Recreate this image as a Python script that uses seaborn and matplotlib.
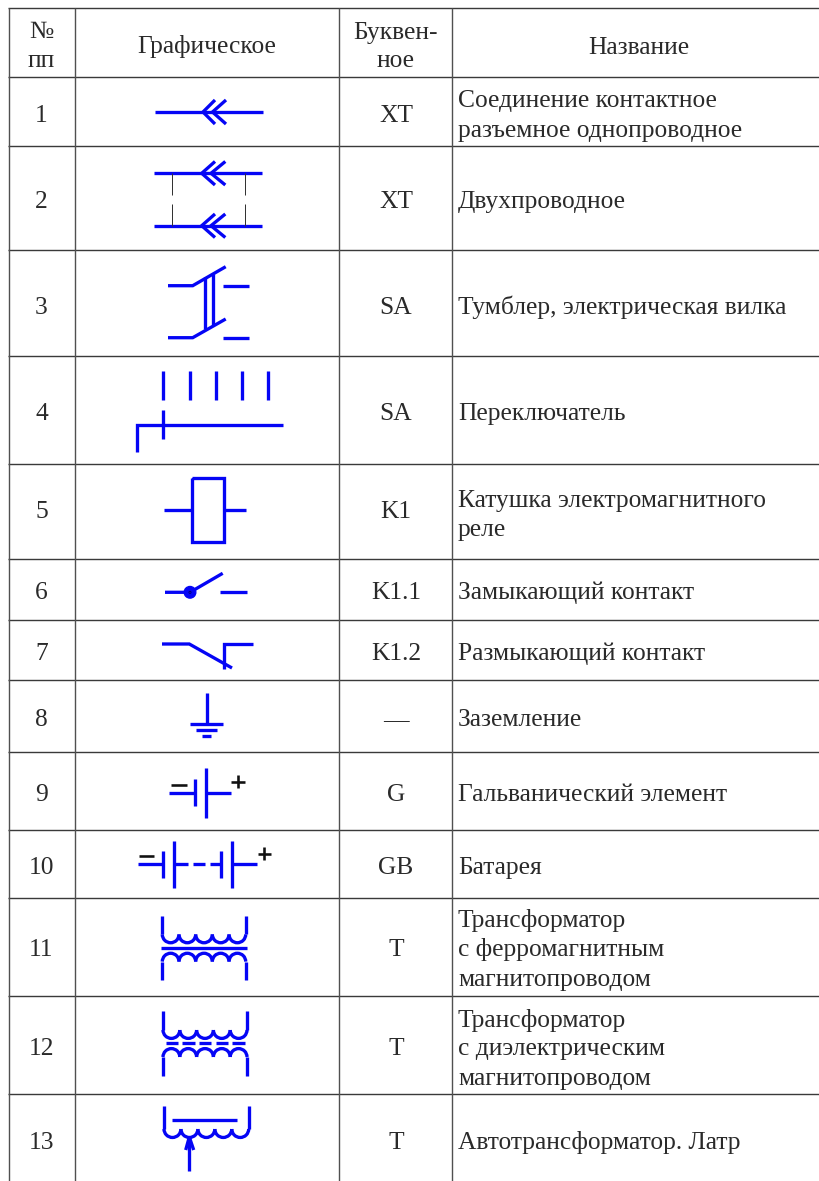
import matplotlib
matplotlib.use("Agg")
import matplotlib.pyplot as plt
from matplotlib.patches import Arc, Circle
import seaborn as sns

sns.set_style("white")
plt.rcParams['font.family'] = ['Liberation Serif', 'DejaVu Serif']

W, H = 819, 1181
BLUE = "#0505F5"
INK = "#2a2a2a"
FS = 18.35

# table grid
ROW_Y = [8, 77, 146, 250, 355.5, 463.7, 559, 620, 680, 752, 830, 898, 996, 1094]
COL_X = [8.5, 74.5, 339, 452]
LEFT_END, RIGHT_END = 8, 819

# text: (x, baseline y, string)
HEADER = [(41.5, 38, "№"), (41.5, 67, "пп"), (207, 53.5, "Графическое"),
          (396, 39, "Буквен-"), (396, 67, "ное"), (639, 53.5, "Название")]
NUMBERS = ["1", "2", "3", "4", "5", "6", "7", "8", "9", "10", "11", "12", "13"]
NUMBER_Y = [122, 208, 314, 420, 518, 599, 660, 726, 801, 874, 956, 1055, 1149]
LETTERS = ["XT", "XT", "SA", "SA", "K1", "K1.1", "K1.2", "—", "G", "GB", "T", "T", "T"]
NAMES = [("Соединение контактное", 107.5), ("разъемное однопроводное", 136.5),
         ("Двухпроводное", 208), ("Тумблер, электрическая вилка", 314),
         ("Переключатель", 420), ("Катушка электромагнитного", 507),
         ("реле", 536), ("Замыкающий контакт", 599), ("Размыкающий контакт", 660),
         ("Заземление", 726), ("Гальванический элемент", 801), ("Батарея", 874),
         ("Трансформатор", 927.5), ("с ферромагнитным", 956), ("магнитопроводом", 986),
         ("Трансформатор", 1026.5), ("с диэлектрическим", 1055), ("магнитопроводом", 1085),
         ("Автотрансформатор. Латр", 1149)]
NAME_X = 458

# symbols: polylines of (x, y) pixel pairs, thick blue
SYM_THICK = [
    # 1
    [(155, 112), (263, 112)], [(215, 100), (203, 112), (215, 124)], [(226, 100), (212.5, 112), (226, 124)],
    # 2
    [(154, 173.3), (262, 173.3)], [(215, 161.5), (201.7, 173.3), (215, 185)], [(225.3, 161.5), (211, 173.3), (225.3, 185)],
    [(154, 225.7), (262, 225.7)], [(215, 214), (201.7, 225.7), (215, 237.5)], [(225.3, 214), (211, 225.7), (225.3, 237.5)],
    # 3
    [(168, 285.7), (192.7, 285.7), (225.7, 266.7)], [(223, 285.7), (249.3, 285.7)],
    [(168, 337.7), (192.7, 337.7), (225.7, 319)], [(223, 337.7), (249.3, 337.7)],
    [(205, 276.5), (205, 329)], [(212.7, 274), (212.7, 325)],
    # 4
    [(163.3, 371), (163.3, 400)], [(189.7, 371), (189.7, 400)], [(215.7, 371), (215.7, 400)],
    [(242, 371), (242, 400)], [(268, 371), (268, 400)], [(163.3, 410), (163.3, 439.3)],
    [(137.3, 452.3), (137.3, 424.7), (282.7, 424.7)],
    # 5
    [(191.7, 477.7), (224, 477.7), (224, 541.7), (191.7, 541.7), (191.7, 477.7)],
    [(164.3, 509.7), (191.7, 509.7)], [(224, 509.7), (246, 509.7)],
    # 6
    [(165, 592.3), (190, 592.3), (222.7, 573.3)], [(220, 592.3), (246.7, 592.3)],
    # 7
    [(162, 644), (189.3, 644), (232, 668)], [(224.3, 668.7), (224.3, 644), (252.7, 644)],
    # 8
    [(206.7, 693.3), (206.7, 724)], [(190, 724), (222.7, 724)], [(196, 730), (217, 730)], [(201.7, 735.7), (211, 735.7)],
    # 9
    [(169.3, 793), (194.7, 793)], [(194.7, 779.3), (194.7, 806)], [(206, 768), (206, 817.7)], [(206, 793), (231.3, 793)],
    # 10
    [(138, 864.3), (163, 864.3)], [(163, 851.3), (163, 877.7)], [(174, 841), (174, 888)], [(174, 864.3), (187.7, 864.3)],
    [(192.7, 864.3), (205.3, 864.3)], [(210.3, 864.3), (221, 864.3)], [(221, 851.3), (221, 877.7)],
    [(232.3, 841), (232.3, 888)], [(232.3, 864.3), (257.3, 864.3)],
    # 11
    [(161.3, 948.3), (247, 948.3)], [(162.3, 916), (162.3, 934.4)], [(245.7, 916), (245.7, 934.4)],
    [(162.3, 961.6), (162.3, 980)], [(245.7, 961.6), (245.7, 980)],
    # 12
    [(166, 1043.3), (178.3, 1043.3)], [(182.3, 1043.3), (194.7, 1043.3)], [(199, 1043.3), (211.3, 1043.3)],
    [(215.7, 1043.3), (228, 1043.3)], [(232, 1043.3), (245, 1043.3)],
    [(163, 1011), (163, 1030)], [(247, 1011), (247, 1030)], [(163, 1057), (163, 1076)], [(247, 1057), (247, 1076)],
    # 13
    [(164, 1106), (164, 1129)], [(248.7, 1106), (248.7, 1129)], [(172.3, 1120.3), (236.7, 1120.3)],
    [(189.3, 1171), (189.3, 1137)], [(185.7, 1150), (189.3, 1137), (193.7, 1150)],
]
# thin black ties of symbol 2
SYM_THIN = [[(171.5, 173.3), (171.5, 194.5)], [(171.5, 204.3), (171.5, 225.7)],
            [(244.7, 173.3), (244.7, 194.5)], [(244.7, 204.3), (244.7, 225.7)]]
# black polarity signs of symbols 9 and 10
SYM_SIGNS = [[(171.3, 784.7), (186.7, 784.7)], [(231.3, 781.7), (244.7, 781.7)], [(238, 775), (238, 788.4)],
             [(139, 856.3), (154.3, 856.3)], [(257.6, 853.7), (271, 853.7)], [(264.3, 847), (264.3, 860.4)]]
# winding rows: (first hump left x, hump width, hump count, centre y, bulge direction)
WINDINGS = [(162.3, 16.68, 5, 934.4, "down"), (162.3, 16.68, 5, 961.6, "up"),
            (163, 16.8, 5, 1030, "down"), (163, 16.8, 5, 1057, "up"),
            (164, 16.94, 5, 1129, "down")]
DOT_CENTER = (190, 592.3)
DOT_RADIUS = 5.8
DOT_MARK_RADIUS = 1.1


def px(v):
    return v * 0.72


def poly(ax, pts, color, lw, cap="butt"):
    xs = [p[0] for p in pts]
    ys = [p[1] for p in pts]
    sns.lineplot(x=xs, y=ys, sort=False, estimator=None, color=color, linewidth=px(lw),
                 solid_capstyle=cap, solid_joinstyle="miter", ax=ax, legend=False)


fig = plt.figure(figsize=(W / 100, H / 100), dpi=100, facecolor="white")
ax = fig.add_axes([0, 0, 1, 1])

for y in ROW_Y:
    poly(ax, [(LEFT_END, y), (RIGHT_END, y)], "#3a3a3a", 1.4)
for x in COL_X:
    poly(ax, [(x, ROW_Y[0]), (x, H)], "#505050", 1.4)

for pts in SYM_THICK:
    poly(ax, pts, BLUE, 3.3)
for pts in SYM_THIN:
    poly(ax, pts, "#333333", 1.0)
for pts in SYM_SIGNS:
    poly(ax, pts, "#111111", 2.6)

for x0, w, n, cy, direction in WINDINGS:
    t1, t2 = (0, 180) if direction == "down" else (180, 360)
    for i in range(n):
        ax.add_patch(Arc((x0 + w * (i + 0.5), cy), w, w, theta1=t1, theta2=t2,
                         color=BLUE, lw=px(3.3), zorder=3))
ax.add_patch(Circle(DOT_CENTER, DOT_RADIUS, color=BLUE, zorder=3))
ax.add_patch(Circle(DOT_CENTER, DOT_MARK_RADIUS, facecolor="none", edgecolor="#000060", lw=0.5, zorder=4))

for x, y, s in HEADER:
    ax.text(x, y, s, ha="center", va="baseline", fontsize=FS, color=INK)
for s, l, y in zip(NUMBERS, LETTERS, NUMBER_Y):
    ax.text(41.5, y, s, ha="center", va="baseline", fontsize=FS, color=INK)
    ax.text(396, y, l, ha="center", va="baseline", fontsize=FS, color=INK)
for s, y in NAMES:
    ax.text(NAME_X, y, s, ha="left", va="baseline", fontsize=FS, color=INK)

ax.set_xlim(0, W)
ax.set_ylim(H, 0)
ax.axis("off")
fig.savefig("out.png", dpi=100, facecolor="white")
